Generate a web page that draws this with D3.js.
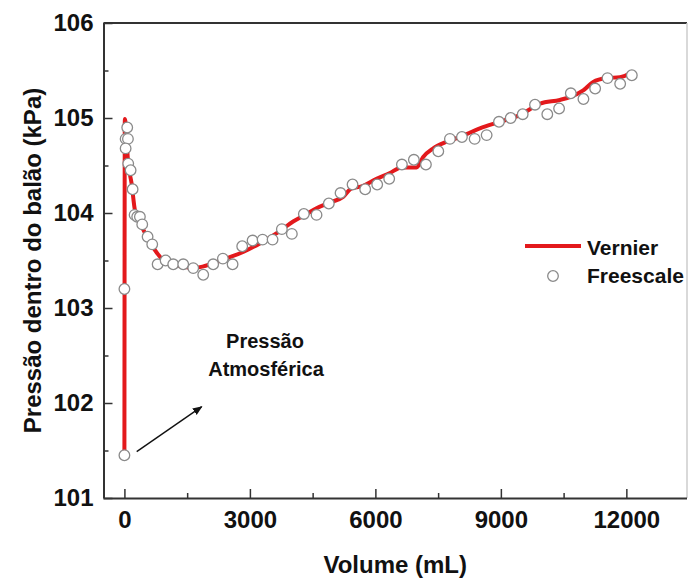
<!DOCTYPE html>
<html><head><meta charset="utf-8">
<script src="https://cdn.jsdelivr.net/npm/d3@7"></script>
<style>
body{margin:0;background:#fff;}
text{font-family:"Liberation Sans",Arial,sans-serif;font-weight:bold;fill:#111;}
</style></head>
<body><svg id="c" width="688" height="581"></svg>
<script>
// Vernier (line) data
const vernierX = [0,10,91,172,251,411,570,730,889,1008,1247,1645,1804,2122,2361,2839,3238,3716,4034,4353,4592,4911,5229,5429,5668,6027,6346,6625,6984,7143,7382,7701,8020,8498,8976,9454,9933,10411,10650,10969,11208,11527,11846,12125];
const vernierY = [101.45,104.99,104.52,104.31,104.03,103.86,103.73,103.61,103.52,103.47,103.45,103.42,103.43,103.47,103.51,103.59,103.68,103.81,103.91,103.99,104.05,104.11,104.17,104.26,104.28,104.36,104.42,104.48,104.48,104.59,104.68,104.75,104.80,104.89,104.96,105.03,105.15,105.19,105.22,105.29,105.38,105.42,105.43,105.48];
// Freescale (points) data
const freeX = [0,0,67,29,84,29,91,148,196,244,306,370,426,554,665,794,985,1167,1406,1645,1884,2122,2354,2586,2816,3064,3303,3542,3764,4003,4290,4593,4887,5167,5454,5756,6043,6330,6634,6920,7208,7504,7782,8069,8373,8660,8955,9235,9522,9816,10110,10392,10672,10974,11254,11549,11852,12131];
const freeY = [103.20,101.45,104.90,104.78,104.78,104.68,104.52,104.45,104.25,103.98,103.96,103.96,103.88,103.75,103.67,103.46,103.50,103.46,103.46,103.42,103.35,103.46,103.52,103.46,103.65,103.71,103.72,103.72,103.83,103.78,103.99,103.98,104.10,104.21,104.30,104.25,104.30,104.36,104.51,104.56,104.51,104.65,104.78,104.80,104.78,104.82,104.96,105.00,105.04,105.14,105.04,105.10,105.26,105.20,105.31,105.42,105.36,105.45];
const xTicks = [0,3000,6000,9000,12000];
const yTicks = [101,102,103,104,105,106];
const xMinor = [1500,4500,7500,10500];
const yMinor = [101.5,102.5,103.5,104.5,105.5];
const seriesNames = ["Vernier","Freescale"];
const xTitle = "Volume (mL)";
const yTitle = "Pressão dentro do balão (kPa)";
const annotation = ["Pressão","Atmosférica"];

const svg = d3.select("#c");
const L = 103.5, R = 687, T = 23, B = 498;
const x = d3.scaleLinear().domain([-500,13450]).range([L,R]);
const y = d3.scaleLinear().domain([101,106]).range([B,T]);

// frame top/right
svg.append("line").attr("x1",L).attr("x2",R).attr("y1",T).attr("y2",T).attr("stroke","#333").attr("stroke-width",2);
svg.append("line").attr("x1",R).attr("x2",R).attr("y1",T).attr("y2",B).attr("stroke","#ccc").attr("stroke-width",1.5);

// minor ticks
svg.append("g").attr("transform",`translate(0,${B})`)
  .call(d3.axisBottom(x).tickValues(xMinor).tickSize(-5).tickFormat(""))
  .call(g=>{g.select(".domain").remove();g.selectAll("line").attr("stroke","#333").attr("stroke-width",1.5);});
svg.append("g").attr("transform",`translate(${L},0)`)
  .call(d3.axisLeft(y).tickValues(yMinor).tickSize(-5).tickFormat(""))
  .call(g=>{g.select(".domain").remove();g.selectAll("line").attr("stroke","#333").attr("stroke-width",1.5);});

// major axes
const gx = svg.append("g").attr("transform",`translate(0,${B})`)
  .call(d3.axisBottom(x).tickValues(xTicks).tickSize(-9).tickPadding(13).tickSizeOuter(0).tickFormat(d3.format("d")));
const gy = svg.append("g").attr("transform",`translate(${L},0)`)
  .call(d3.axisLeft(y).tickValues(yTicks).tickSize(-9).tickPadding(10).tickSizeOuter(0).tickFormat(d3.format("d")));
[gx,gy].forEach(g=>{
  g.select(".domain").attr("stroke","#333").attr("stroke-width",2);
  g.selectAll(".tick line").attr("stroke","#333").attr("stroke-width",1.5);
  g.selectAll(".tick text").attr("font-size",24).attr("font-family",null).attr("fill","#111");
});
gx.select(".domain").attr("d",`M${L},0.5H${R}`);
gy.select(".domain").attr("d",`M0.5,${B}V${T}`);

// Vernier line
const pts = vernierX.map((v,i)=>[v,vernierY[i]]);
svg.append("path").datum(pts)
  .attr("d",d3.line().x(d=>x(d[0])).y(d=>y(d[1])).curve(d3.curveMonotoneX))
  .attr("fill","none").attr("stroke","#e3191c").attr("stroke-width",4).attr("stroke-linejoin","round");

// Freescale points
svg.append("g").selectAll("circle").data(freeX.map((v,i)=>[v,freeY[i]])).join("circle")
  .attr("cx",d=>x(d[0])).attr("cy",d=>y(d[1])).attr("r",5.3)
  .attr("fill","#fff").attr("stroke","#8a8a8a").attr("stroke-width",1.3);

// legend
svg.append("line").attr("x1",525).attr("x2",581).attr("y1",246).attr("y2",246).attr("stroke","#e3191c").attr("stroke-width",4);
svg.append("text").attr("x",587).attr("y",255).attr("font-size",21).text(seriesNames[0]);
svg.append("circle").attr("cx",553).attr("cy",276).attr("r",5.3).attr("fill","#fff").attr("stroke","#8a8a8a").attr("stroke-width",1.3);
svg.append("text").attr("x",587).attr("y",283).attr("font-size",21).text(seriesNames[1]);

// annotation
svg.append("text").attr("x",265).attr("y",348).attr("text-anchor","middle").attr("font-size",20).text(annotation[0]);
svg.append("text").attr("x",266).attr("y",376).attr("text-anchor","middle").attr("font-size",20).text(annotation[1]);
svg.append("defs").append("marker").attr("id","ah").attr("viewBox","0 0 10 10").attr("refX",9).attr("refY",5)
  .attr("markerWidth",7).attr("markerHeight",7).attr("orient","auto")
  .append("path").attr("d","M0,1L10,5L0,9Z").attr("fill","#111");
svg.append("line").attr("x1",136.7).attr("y1",451.7).attr("x2",201.7).attr("y2",406.7)
  .attr("stroke","#111").attr("stroke-width",1.4).attr("marker-end","url(#ah)");

// axis titles
svg.append("text").attr("x",(L+R)/2).attr("y",573).attr("text-anchor","middle").attr("font-size",24).text(xTitle);
svg.append("text").attr("transform",`translate(41,${(T+B)/2}) rotate(-90)`).attr("text-anchor","middle").attr("font-size",24).text(yTitle);
</script></body></html>
